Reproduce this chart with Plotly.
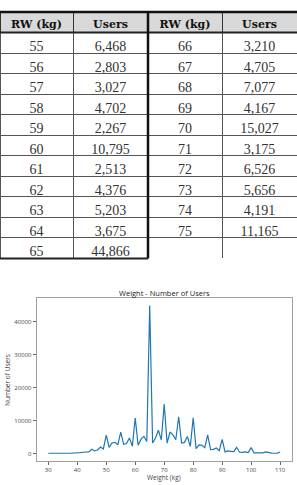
import plotly.graph_objects as go

# ---- data ----
weights = [30, 31, 32, 33, 34, 35, 36, 37, 38, 39,
           40, 41, 42, 43, 44, 45, 46, 47, 48, 49,
           50, 51, 52, 53, 54, 55, 56, 57, 58, 59,
           60, 61, 62, 63, 64, 65, 66, 67, 68, 69,
           70, 71, 72, 73, 74, 75, 76, 77, 78, 79,
           80, 81, 82, 83, 84, 85, 86, 87, 88, 89,
           90, 91, 92, 93, 94, 95, 96, 97, 98, 99,
           100, 101, 102, 103, 104, 105, 106, 107, 108, 109, 110]
users = [100, 80, 90, 100, 120, 150, 120, 130, 150, 180,
         350, 300, 400, 450, 500, 1300, 800, 1100, 2000, 1400,
         5600, 1900, 3200, 3400, 2700, 6468, 2803, 3027, 4702, 2267,
         10795, 2513, 4376, 5203, 3675, 44866, 3210, 4705, 7077, 4167,
         15027, 3175, 6526, 5656, 4191, 11165, 3200, 3400, 5200, 2200,
         10800, 1500, 2600, 2500, 1800, 5700, 1200, 1300, 1700, 900,
         4300, 500, 800, 700, 600, 1900, 400, 350, 500, 300,
         1800, 200, 250, 200, 200, 500, 200, 120, 100, 150, 500]

table_rw_left = [55, 56, 57, 58, 59, 60, 61, 62, 63, 64, 65]
table_rw_right = [66, 67, 68, 69, 70, 71, 72, 73, 74, 75]
header_labels = ["RW\u00a0(kg)", "Users", "RW\u00a0(kg)", "Users"]
chart_title = "Weight - Number of Users"
x_title = "Weight (kg)"
y_title = "Number of Users"
x_ticks = [30, 40, 50, 60, 70, 80, 90, 100, 110]
y_ticks = [0, 10000, 20000, 30000, 40000]

lookup = dict(zip(weights, users))

W, H = 297, 485


def py(px):
    return 1 - px / H


col1 = [str(w) for w in table_rw_left]
col2 = [f"{lookup[w]:,}" for w in table_rw_left]
col3 = [str(w) for w in table_rw_right] + [""]
col4 = [f"{lookup[w]:,}" for w in table_rw_right] + [""]

fig = go.Figure()

fig.add_trace(go.Table(
    domain=dict(x=[0, 1], y=[py(258.5), py(12)]),
    columnwidth=[73, 75, 74, 75],
    header=dict(
        values=header_labels,
        fill_color="#d9d9d9",
        line=dict(color="#333333", width=1),
        font=dict(family="DejaVu Serif", size=11, color="#111111", weight="bold"),
        align="center",
        height=20.5,
    ),
    cells=dict(
        values=[col1, col2, col3, col4],
        fill_color="white",
        line=dict(color="#555555", width=1),
        font=dict(family="Liberation Serif", size=14, color="#333333"),
        align="center",
        height=20.5,
    ),
))

fig.add_trace(go.Scatter(
    x=weights, y=users, mode="lines",
    line=dict(color="#1f77b4", width=1.2),
    xaxis="x", yaxis="y", showlegend=False,
))

shapes = [
    dict(type="line", xref="paper", yref="paper", x0=0, x1=1, y0=py(12), y1=py(12),
         line=dict(color="#111111", width=2.5)),
    dict(type="line", xref="paper", yref="paper", x0=0, x1=1, y0=py(32.5), y1=py(32.5),
         line=dict(color="#222222", width=2)),
    dict(type="line", xref="paper", yref="paper", x0=148 / W, x1=148 / W, y0=py(12), y1=py(258.5),
         line=dict(color="#111111", width=2.5)),
    dict(type="line", xref="paper", yref="paper", x0=0, x1=148 / W, y0=py(258.5), y1=py(258.5),
         line=dict(color="#222222", width=2)),
]

tick_font = dict(family="Open Sans", size=6, color="#444444")
fig.update_layout(
    width=W, height=H,
    margin=dict(l=0, r=0, t=0, b=0),
    paper_bgcolor="white", plot_bgcolor="white",
    showlegend=False,
    shapes=shapes,
    xaxis=dict(
        domain=[36.7 / W, 291.7 / W], anchor="y",
        range=[26, 114], tickvals=x_ticks, ticks="outside", ticklen=3,
        tickcolor="#666666", showline=True, linecolor="#a0a0a0", linewidth=1,
        mirror=True, showgrid=False, zeroline=False, tickfont=tick_font,
    ),
    yaxis=dict(
        domain=[py(461), py(298)], anchor="x",
        range=[-2243, 47109], tickvals=y_ticks, tickformat="d",
        ticks="outside", ticklen=3,
        tickcolor="#666666", showline=True, linecolor="#a0a0a0", linewidth=1,
        mirror=True, showgrid=False, zeroline=False, tickfont=tick_font,
    ),
    annotations=[
        dict(text=chart_title, xref="paper", yref="paper", x=164 / W, y=py(293),
             showarrow=False, xanchor="center", yanchor="middle",
             font=dict(family="Open Sans", size=7.5, color="#222222")),
        dict(text=x_title, xref="paper", yref="paper", x=164 / W, y=py(477.5),
             showarrow=False, xanchor="center", yanchor="middle",
             font=dict(family="Open Sans", size=6.5, color="#444444")),
        dict(text=y_title, xref="paper", yref="paper", x=7 / W, y=py(380),
             showarrow=False, xanchor="center", yanchor="middle", textangle=-90,
             font=dict(family="Open Sans", size=6.5, color="#444444")),
    ],
)

fig.write_html("out.html")
